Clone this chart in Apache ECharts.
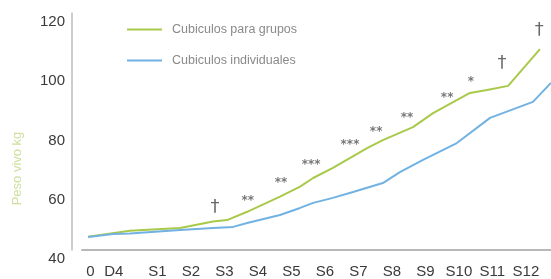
<!DOCTYPE html>
<html><head><meta charset="utf-8">
<script src="https://cdn.jsdelivr.net/npm/echarts@6/dist/echarts.min.js"></script>
<style>html,body{margin:0;padding:0;background:#fff}#c{width:551px;height:279px}</style>
</head><body><div id="c"></div>
<script>
// x positions in weeks
const tickLabels = ['0','D4','S1','S2','S3','S4','S5','S6','S7','S8','S9','S10','S11','S12'];
const tickPos    = [-1.0,-0.3,1,2,3,4,5,6,7,8,9,10,11,12];

const grupoX = [-1.07,0.18,1.68,2.66,3.08,3.68,4.66,5.26,5.65,6.24,7.26,7.73,8.63,9.23,10.33,10.84,11.47,12.42];
const grupoY = [44.5,46.5,47.4,49.6,50.1,52.9,58.0,61.4,64.3,67.7,74.4,77.1,81.5,86.2,93.0,94.0,95.4,107.8];

const indivX = [-1.07,-0.32,0.18,1.68,2.66,3.26,3.68,4.66,5.26,5.65,6.24,6.84,7.73,8.24,8.93,9.94,10.93,12.21,12.75];
const indivY = [44.4,45.4,45.6,46.75,47.4,47.8,49.1,51.8,54.2,55.9,57.6,59.6,62.6,66.3,70.4,76.1,84.6,90.0,96.4];

const markX = [2.72,3.70,4.69,5.59,6.75,7.53,8.45,9.65,10.36,11.29,12.40];
const markY = [54.5,56.5,62.6,68.7,75.4,79.8,84.6,91.3,96.7,103.1,114.3];
const markT = ['†','**','**','***','***','**','**','**','*','†','†'];

const seriesNames = ['Cubiculos para grupos','Cubiculos individuales'];

const zip = (a,b) => a.map((v,i)=>[v,b[i]]);
const chart = echarts.init(document.getElementById('c'));
chart.setOption({
  backgroundColor:'#fff',
  animation:false,
  grid:{left:82,right:0,top:13,bottom:29},
  legend:{
    data:seriesNames, orient:'vertical', left:122, top:18,
    itemWidth:35, itemHeight:14, itemGap:18, icon:'path://M0,6L35,6L35,8L0,8Z',
    textStyle:{color:'#8a8a8a', fontSize:12.5, fontFamily:'Liberation Sans', padding:[0,0,0,5]}
  },
  xAxis:{
    type:'value', min:-1.25, max:12.75, position:'bottom',
    axisLine:{show:true, onZero:false, lineStyle:{color:'#b8b8b8', width:2}},
    axisTick:{show:false},
    splitLine:{show:false},
    axisLabel:{
      customValues:tickPos, margin:14,
      color:'#3a3a3a', fontSize:15, fontFamily:'Liberation Sans',
      formatter:(v)=>{const i=tickPos.findIndex(p=>Math.abs(p-v)<1e-6);return i>=0?tickLabels[i]:'';}
    }
  },
  yAxis:{
    type:'value', min:40, max:120, interval:20, offset:10,
    name:'Peso vivo kg', nameLocation:'middle', nameGap:48,
    nameTextStyle:{color:'#cddf9c', fontSize:13, fontFamily:'Liberation Sans', padding:[0,74,0,0]},
    axisLine:{show:true, onZero:false, lineStyle:{color:'#bdbdbd', width:1.5}},
    axisTick:{show:false},
    splitLine:{show:false},
    axisLabel:{color:'#3a3a3a', fontSize:15, fontFamily:'Liberation Sans', margin:7,
      verticalAlign:'top', lineHeight:16, padding:[1,0,0,0]}
  },
  series:[
    {name:seriesNames[0], type:'line', data:zip(grupoX,grupoY), showSymbol:false, color:'#a9c94a', lineStyle:{width:2},
     markLine:{silent:true, symbol:'none', label:{show:false},
       lineStyle:{color:'#b8b8b8', width:2, type:'solid'}, data:[{yAxis:40}]}},
    {name:seriesNames[1], type:'line', data:zip(indivX,indivY), showSymbol:false, color:'#72b2e2', lineStyle:{width:2}},
    {type:'scatter', symbolSize:0, silent:true,
     data:markX.map((x,i)=>({value:[x,markY[i]], name:markT[i]})),
     label:{show:true, position:'inside', color:'#444', fontFamily:'DejaVu Sans',
       formatter:(p)=> p.name==='†' ? '{d|†}' : '{a|'+p.name+'}',
       rich:{d:{fontSize:18, color:'#444'}, a:{fontSize:12, color:'#555', fontWeight:'bold'}}}}
  ]
});
</script></body></html>
